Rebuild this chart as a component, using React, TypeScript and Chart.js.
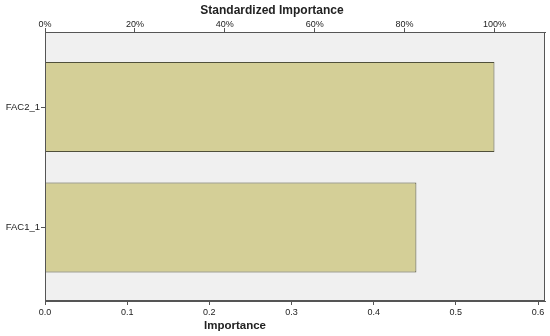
import React, { useEffect, useRef } from "react";
import { Chart, registerables } from "chart.js";

Chart.register(...registerables);

const categories = ["FAC2_1", "FAC1_1"];
const importance = [0.547, 0.452];
const bottomTicks = [0, 0.1, 0.2, 0.3, 0.4, 0.5, 0.6];
const topTicks = [0, 20, 40, 60, 80, 100];
const xMax = 0.6085;
const topTitle = "Standardized Importance";
const bottomTitle = "Importance";

const FONT = "'Liberation Sans', Arial, sans-serif";

const plotBg = {
  id: "plotBg",
  beforeDatasetsDraw(chart: any) {
    const { ctx, chartArea: a } = chart;
    ctx.save();
    ctx.fillStyle = "#f0f0f0";
    ctx.fillRect(a.left, a.top, a.right - a.left, a.bottom - a.top);
    ctx.restore();
  },
  afterDatasetsDraw(chart: any) {
    const { ctx, chartArea: a } = chart;
    ctx.save();
    ctx.strokeStyle = "#555555";
    ctx.lineWidth = 1;
    ctx.strokeRect(a.left + 0.5, a.top + 0.5, a.right - a.left - 1, a.bottom - a.top - 1);
    ctx.restore();
  },
  afterDraw(chart: any) {
    const { ctx } = chart;
    ctx.save();
    ctx.fillStyle = "#222";
    ctx.textAlign = "center";
    ctx.textBaseline = "middle";
    ctx.font = "bold 12px " + FONT;
    ctx.fillText(topTitle, 272, 11);
    ctx.font = "bold 11.5px " + FONT;
    ctx.fillText(bottomTitle, 235, 325.5);
    ctx.restore();
  },
};

export default function App() {
  const ref = useRef<HTMLCanvasElement>(null);
  useEffect(() => {
    const maxVal = Math.max(...importance);
    const chart = new Chart(ref.current!, {
      type: "bar",
      data: {
        datasets: [
          {
            data: importance.map((v, i) => ({ x: v, y: i })),
            backgroundColor: "#d4cf97",
            borderColor: "#50503a",
            borderWidth: 1,
            barPercentage: 0.747,
            categoryPercentage: 1,
            xAxisID: "x",
            yAxisID: "y",
          },
        ],
      },
      options: {
        indexAxis: "y",
        animation: false,
        responsive: false,
        maintainAspectRatio: false,
        layout: { padding: { left: 0, right: 5, top: 0, bottom: 0 } },
        plugins: { legend: { display: false }, tooltip: { enabled: false } },
        scales: {
          x: {
            type: "linear",
            position: "bottom",
            min: 0,
            max: xMax,
            afterBuildTicks: (s: any) => {
              s.ticks = bottomTicks.map((v) => ({ value: v }));
            },
            afterFit: (s: any) => {
              s.height = 35;
            },
            ticks: {
              callback: (v: any) => Number(v).toFixed(1),
              color: "#222",
              font: { family: FONT, size: 9 },
              padding: 2,
              maxRotation: 0,
            },
            grid: { drawOnChartArea: false, drawTicks: true, tickLength: 4, color: "#555" },
            border: { display: true, color: "#555" },
          },
          x2: {
            type: "linear",
            position: "top",
            min: 0,
            max: (xMax / maxVal) * 100,
            afterBuildTicks: (s: any) => {
              s.ticks = topTicks.map((v) => ({ value: v }));
            },
            afterFit: (s: any) => {
              s.height = 32;
            },
            ticks: {
              callback: (v: any) => v + "%",
              color: "#222",
              font: { family: FONT, size: 9 },
              padding: -2,
              maxRotation: 0,
            },
            grid: { drawOnChartArea: false, drawTicks: true, tickLength: 4, color: "#555" },
            border: { display: true, color: "#555" },
          },
          y: {
            type: "linear",
            reverse: true,
            offset: false,
            bounds: "data",
            min: -0.623,
            max: 1.609,
            afterBuildTicks: (s: any) => {
              s.ticks = categories.map((_, i) => ({ value: i }));
            },
            afterFit: (s: any) => {
              s.width = 45;
            },
            ticks: {
              callback: (v: any) => categories[v] ?? "",
              color: "#222",
              font: { family: FONT, size: 9.5 },
              padding: 1,
            },
            grid: { drawOnChartArea: false, drawTicks: true, tickLength: 4, color: "#555", offset: false },
            border: { display: true, color: "#555" },
          },
        },
      },
      plugins: [plotBg],
    } as any);
    return () => chart.destroy();
  }, []);
  return (
    <div style={{ position: "fixed", left: 0, top: 0, width: 550, height: 336, background: "#fff" }}>
      <canvas ref={ref} width={550} height={336} style={{ width: 550, height: 336 }} />
    </div>
  );
}
